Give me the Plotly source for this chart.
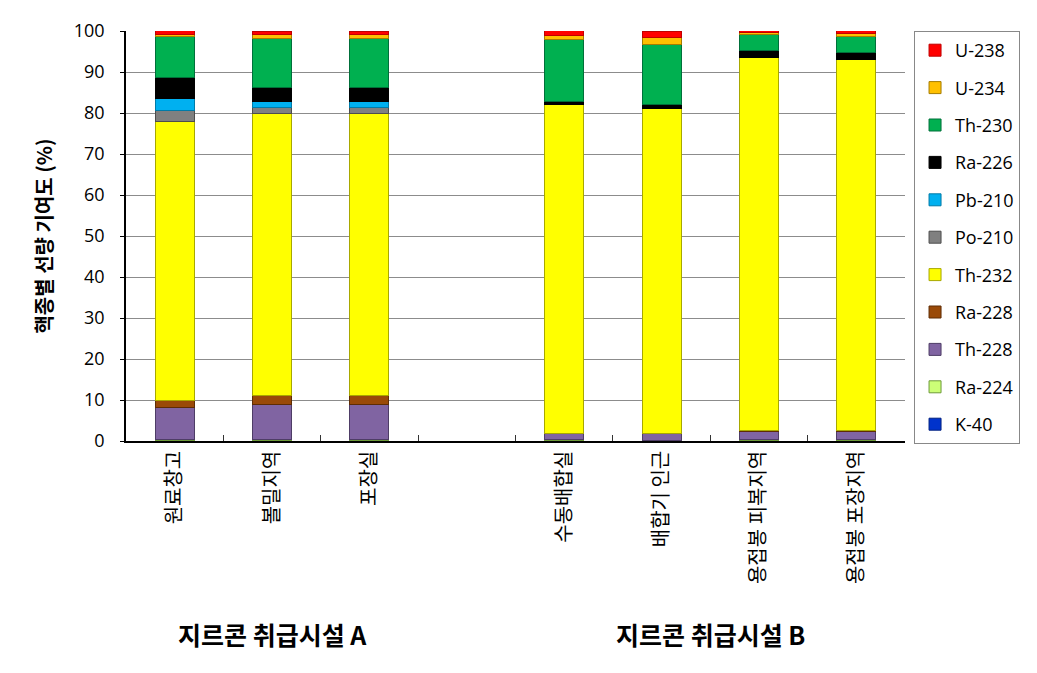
import plotly.graph_objects as go

categories = ["원료창고", "볼밀지역", "포장실", " ", "수동배합실", "배합기 인근", "용접봉 피복지역", "용접봉 포장지역"]

# stacked bottom to top
K40   = [0.05, 0.05, 0.05, None, 0.05, 0.05, 0.05, 0.05]
Ra224 = [0.3, 0.4, 0.3, None, 0.2, 0.1, 0.2, 0.3]
Th228 = [7.7, 8.5, 8.6, None, 1.5, 1.6, 2.1, 2.0]
Ra228 = [1.9, 2.05, 2.05, None, 0.1, 0.2, 0.1, 0.1]
Th232 = [68.1, 69.0, 69.0, None, 80.3, 79.1, 91.1, 90.5]
Po210 = [2.5, 1.4, 1.4, None, 0.0, 0.0, 0.0, 0.0]
Pb210 = [2.9, 1.5, 1.5, None, 0.0, 0.0, 0.0, 0.0]
Ra226 = [5.3, 3.3, 3.3, None, 0.7, 1.1, 1.6, 1.9]
Th230 = [9.8, 12.0, 12.0, None, 15.0, 14.6, 3.9, 3.8]
U234  = [0.7, 1.0, 1.0, None, 1.1, 1.6, 0.5, 0.8]
U238  = [0.8, 0.8, 0.8, None, 1.1, 1.6, 0.5, 0.6]

series = [
    ("K-40", K40), ("Ra-224", Ra224), ("Th-228", Th228), ("Ra-228", Ra228),
    ("Th-232", Th232), ("Po-210", Po210), ("Pb-210", Pb210), ("Ra-226", Ra226),
    ("Th-230", Th230), ("U-234", U234), ("U-238", U238),
]

fills = {
    "K-40": "#0033CC", "Ra-224": "#CCFF77", "Th-228": "#8064A2", "Ra-228": "#9A4A08",
    "Th-232": "#FFFF00", "Po-210": "#808080", "Pb-210": "#00B0F0", "Ra-226": "#000000",
    "Th-230": "#00B050", "U-234": "#FFC000", "U-238": "#FF0000",
}
edges = {
    "K-40": "#002080", "Ra-224": "#6E9A3A", "Th-228": "#4E3D66", "Ra-228": "#5E2C04",
    "Th-232": "#A8A800", "Po-210": "#4D4D4D", "Pb-210": "#007BA8", "Ra-226": "#000000",
    "Th-230": "#00703A", "U-234": "#A67C00", "U-238": "#C00000",
}

FONT = "Open Sans, Noto Sans CJK KR, sans-serif"
KR = "Noto Sans CJK KR"

fig = go.Figure()
n = len(series)
for i, (name, vals) in enumerate(series):
    fig.add_trace(go.Bar(
        x=categories, y=vals, name=name, legendgroup=name,
        legendrank=1000 + (n - i),
        marker=dict(color=fills[name], line=dict(color=edges[name], width=1)),
    ))

fig.update_layout(
    barmode="stack",
    bargap=0.6,
    width=1037, height=673,
    margin=dict(l=126, r=132, t=31, b=232),
    paper_bgcolor="white", plot_bgcolor="white",
    font=dict(family=FONT, size=17, color="black"),
    showlegend=True,
    legend=dict(
        traceorder="grouped", tracegroupgap=11,
        x=1.0116, xanchor="left", y=1.0, yanchor="top",
        bordercolor="#888888", borderwidth=1,
        font=dict(family=FONT, size=18, color="black"),
        itemwidth=30, entrywidth=105, maxheight=640,
    ),
    xaxis=dict(
        type="category", categoryorder="array", categoryarray=categories,
        tickangle=-90, tickson="boundaries", ticks="inside", ticklen=6,
        tickcolor="#333333",
        showline=True, linecolor="black", linewidth=1.5,
        tickfont=dict(family=KR, size=20, color="black"),
        showgrid=False,
    ),
    yaxis=dict(
        range=[0, 100], dtick=10, tick0=0,
        showgrid=True, gridcolor="#8C8C8C", gridwidth=1,
        ticks="outside", ticklen=4, tickcolor="black",
        ticklabelstandoff=12,
        showline=True, linecolor="black", linewidth=1.5,
        tickfont=dict(family=FONT, size=18, color="black"),
        title=dict(text="<b>핵종별 선량 기여도 (%)</b>", standoff=16,
                   font=dict(family=KR, size=20, color="black")),
        zeroline=False,
    ),
    annotations=[
        dict(text="<b>지르콘 취급시설 A</b>", x=1, xref="x", y=-0.52, yref="paper",
             showarrow=False, font=dict(family=KR, size=25, color="black")),
        dict(text="<b>지르콘 취급시설 B</b>", x=5.5, xref="x", y=-0.52, yref="paper",
             showarrow=False, font=dict(family=KR, size=25, color="black")),
    ],
)

fig.write_html("out.html")
